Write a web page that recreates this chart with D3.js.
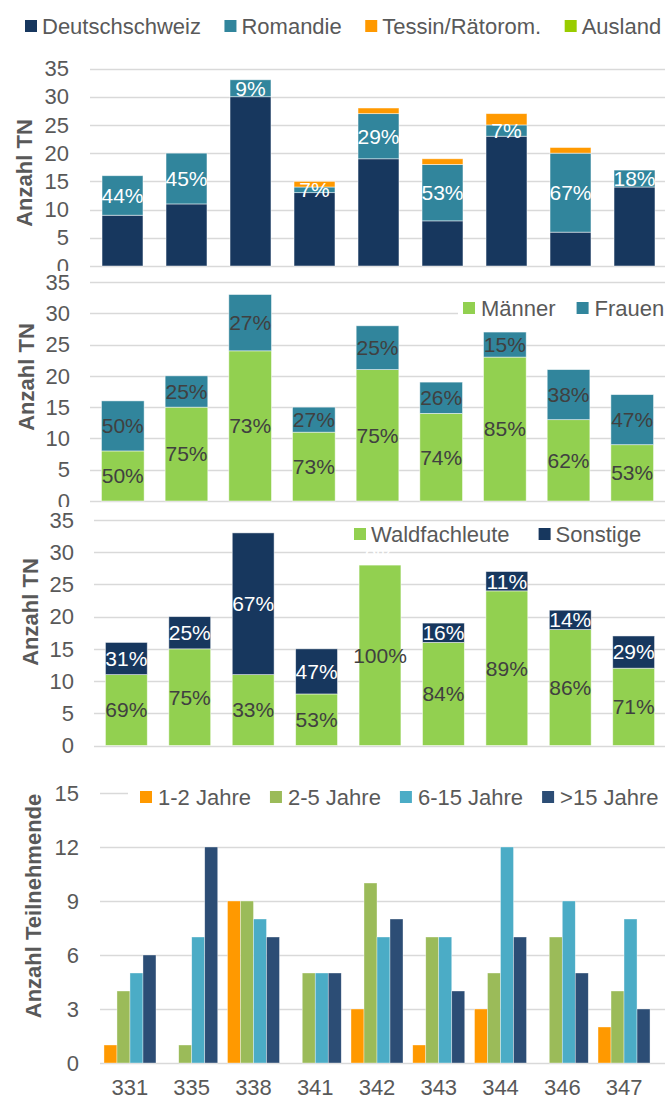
<!DOCTYPE html>
<html><head><meta charset="utf-8">
<script src="https://cdn.jsdelivr.net/npm/d3@7/dist/d3.min.js"></script>
<style>
html,body{margin:0;padding:0;background:#fff;}
svg{display:block;font-family:"Liberation Sans",Arial,sans-serif;}
</style></head>
<body>
<svg id="chart" width="665" height="1099"></svg>
<script>
// ---------- DATA ----------
const courses = ["331","335","338","341","342","343","344","346","347"];

const regionNames = ["Deutschschweiz","Romandie","Tessin/Rätorom.","Ausland"];
const deutschschweiz = [9,11,30,13,19,8,23,6,14];
const romandie       = [7,9,3,1,8,10,2,14,3];
const tessin         = [0,0,0,1,1,1,2,1,0];
const ausland        = [0,0,0,0,0,0,0,0,0];

const genderNames = ["Männer","Frauen"];
const maenner = [8,15,24,11,21,14,23,13,9];
const frauen  = [8,5,9,4,7,5,4,8,8];

const professionNames = ["Waldfachleute","Sonstige"];
const waldfachleute = [11,15,11,8,28,16,24,18,12];
const sonstige      = [5,5,22,7,0,3,3,3,5];

const experienceNames = ["1-2 Jahre","2-5 Jahre","6-15 Jahre",">15 Jahre"];
const jahre1bis2   = [1,0,9,0,3,1,3,0,2];
const jahre2bis5   = [4,1,9,5,10,7,5,7,4];
const jahre6bis15  = [5,7,8,5,7,7,12,9,8];
const jahreUeber15 = [6,12,7,5,8,4,7,5,3];

const countTicks = [0,5,10,15,20,25,30,35];
const expTicks = [0,3,6,9,12,15];
const yTitleTN = "Anzahl TN";
const yTitleTeil = "Anzahl Teilnehmende";

// ---------- STYLE ----------
const FONT = 22, LABEL_FONT = 21;
const TXT = "#595959", GRID = "#D9D9D9", DARKLBL = "#404040";
const svg = d3.select("#chart");
const defs = svg.append("defs");

function legend(g, items, x0, yc, gap, textGap) {
  let x = x0;
  items.forEach(it => {
    g.append("rect").attr("x", x).attr("y", yc - 6).attr("width", 12).attr("height", 12).attr("fill", it.color);
    const t = g.append("text").attr("x", x + 12 + textGap).attr("y", yc).attr("dy", "0.35em")
      .attr("font-size", FONT).attr("fill", TXT).text(it.name);
    x = x + 12 + textGap + t.node().getComputedTextLength() + gap;
  });
}

function yAxisGrid(g, y, ticks, x0, x1, labelRight) {
  g.selectAll(null).data(ticks).enter().append("line")
    .attr("x1", x0).attr("x2", x1).attr("y1", d => Math.round(y(d)) + 0.5).attr("y2", d => Math.round(y(d)) + 0.5)
    .attr("stroke", GRID).attr("stroke-width", 1.6);
  g.selectAll(null).data(ticks).enter().append("text")
    .attr("x", labelRight).attr("y", d => y(d)).attr("dy", "0.35em").attr("text-anchor", "end")
    .attr("font-size", FONT).attr("fill", TXT).text(d => d);
}

function yTitle(g, txt, cx, cy) {
  g.append("text").attr("transform", `translate(${cx},${cy}) rotate(-90)`)
    .attr("text-anchor", "middle").attr("dy", "0.35em")
    .attr("font-size", FONT).attr("font-weight", "bold").attr("fill", TXT).text(txt);
}

function stackedPanel(cfg, id) {
  const g = svg.append("g");
  if (cfg.clipBottom) {
    defs.append("clipPath").attr("id", id).append("rect")
      .attr("x", 0).attr("y", 0).attr("width", 665).attr("height", cfg.clipBottom);
    g.attr("clip-path", `url(#${id})`);
  }
  const x = d3.scaleBand().domain(courses).range(cfg.xRange).paddingInner(cfg.pin).paddingOuter(cfg.pout);
  const y = d3.scaleLinear().domain([0, 35]).range(cfg.yRange);
  yAxisGrid(g, y, countTicks, cfg.gridX0, 665, cfg.tickRight);
  yTitle(g, yTitleTN, cfg.titleX, cfg.titleY);
  const rows = courses.map((c, i) => {
    const o = {course: c};
    cfg.series.forEach((s, k) => o["s" + k] = s.values[i]);
    return o;
  });
  const keys = cfg.series.map((s, k) => "s" + k);
  const stacked = d3.stack().keys(keys)(rows);
  if (cfg.legendBg) {
    g.append("rect").attr("x", cfg.legendBg[0]).attr("y", cfg.legendY - 12).attr("width", 665 - cfg.legendBg[0]).attr("height", 24).attr("fill", "#fff");
  }
  stacked.forEach((layer, k) => {
    const s = cfg.series[k];
    g.selectAll(null).data(layer).enter().append("rect")
      .attr("x", d => x(d.data.course)).attr("width", x.bandwidth())
      .attr("y", d => y(d[1])).attr("height", d => y(d[0]) - y(d[1]))
      .attr("fill", s.color).attr("stroke", d => (d[1] - d[0]) > 0 ? "rgba(255,255,255,0.6)" : "none").attr("stroke-width", 0.8);
  });
  stacked.forEach((layer, k) => {
    const s = cfg.series[k];
    if (!s.labelColor) return;
    g.selectAll(null).data(layer).enter().append("text")
      .attr("x", d => x(d.data.course) + x.bandwidth() / 2)
      .attr("y", d => (d[1] - d[0]) > 0 ? y((d[0] + d[1]) / 2) : y(d[1]) - 9).attr("dy", "0.35em")
      .attr("text-anchor", "middle").attr("font-size", LABEL_FONT).attr("fill", s.labelColor)
      .text(d => {
        const tot = keys.reduce((a, kk) => a + d.data[kk], 0);
        return Math.round((d[1] - d[0]) / tot * 100) + "%";
      });
  });
  legend(g, cfg.series.map(s => ({name: s.name, color: s.color})), cfg.legendX, cfg.legendY, cfg.legendGap, cfg.legendTextGap);
}

// Panel 1: Region
stackedPanel({
  series: [
    {name: regionNames[0], values: deutschschweiz, color: "#17375E"},
    {name: regionNames[1], values: romandie, color: "#31859C", labelColor: "#FFFFFF"},
    {name: regionNames[2], values: tessin, color: "#FF9900"},
    {name: regionNames[3], values: ausland, color: "#99CC00"}
  ],
  xRange: [90.5, 666.5], pin: 0.36, pout: 0.18,
  yRange: [266, 68.5], gridX0: 90, tickRight: 69, titleX: 24, titleY: 173,
  legendX: 25, legendY: 26, legendGap: 23.5, legendTextGap: 5, clipBottom: 271
}, "clip1");

// Panel 2: Gender
stackedPanel({
  series: [
    {name: genderNames[0], values: maenner, color: "#92D050", labelColor: DARKLBL},
    {name: genderNames[1], values: frauen, color: "#31859C", labelColor: DARKLBL}
  ],
  xRange: [90, 665], pin: 0.33, pout: 0.18,
  yRange: [501, 282], gridX0: 90, tickRight: 70, titleX: 26, titleY: 377,
  legendX: 463, legendY: 308, legendGap: 21, legendTextGap: 6, legendBg: [458], clipBottom: 507
}, "clip2");

// Panel 3: Profession
stackedPanel({
  series: [
    {name: professionNames[0], values: waldfachleute, color: "#92D050", labelColor: DARKLBL},
    {name: professionNames[1], values: sonstige, color: "#17375E", labelColor: "#FFFFFF"}
  ],
  xRange: [94, 666], pin: 0.34, pout: 0.18,
  yRange: [745.5, 520], gridX0: 94, tickRight: 74, titleX: 30, titleY: 612,
  legendX: 354, legendY: 534, legendGap: 29, legendTextGap: 5
}, "clip3");

// Panel 4: Experience (grouped)
(function () {
  const g = svg.append("g");
  const x0 = d3.scaleBand().domain(courses).range([99.1, 654.9]).paddingInner(0.158).paddingOuter(0.079);
  const x1 = d3.scaleBand().domain(experienceNames).range([0, x0.bandwidth()]);
  const y = d3.scaleLinear().domain([0, 15]).range([1063, 793]);
  yAxisGrid(g, y, expTicks, 100, 665, 79);
  yTitle(g, yTitleTeil, 33, 906);
  const series = [
    {name: experienceNames[0], values: jahre1bis2, color: "#FF9900"},
    {name: experienceNames[1], values: jahre2bis5, color: "#9BBB59"},
    {name: experienceNames[2], values: jahre6bis15, color: "#4BACC6"},
    {name: experienceNames[3], values: jahreUeber15, color: "#2C4D75"}
  ];
  series.forEach(s => {
    g.selectAll(null).data(courses.map((c, i) => ({c, v: s.values[i]}))).enter().append("rect")
      .attr("x", d => x0(d.c) + x1(s.name)).attr("width", x1.bandwidth())
      .attr("y", d => y(d.v)).attr("height", d => y(0) - y(d.v))
      .attr("fill", s.color).attr("stroke", d => d.v > 0 ? "rgba(255,255,255,0.6)" : "none").attr("stroke-width", 0.6);
  });
  g.selectAll(null).data(courses).enter().append("text")
    .attr("x", d => x0(d) + x0.bandwidth() / 2).attr("y", 1087).attr("dy", "0.35em")
    .attr("text-anchor", "middle").attr("font-size", FONT).attr("fill", TXT).text(d => d);
  g.append("rect").attr("x", 128).attr("y", 783).attr("width", 537).attr("height", 26).attr("fill", "#fff");
  legend(g, series, 140, 797, 19, 6);
})();
</script>
</body></html>
